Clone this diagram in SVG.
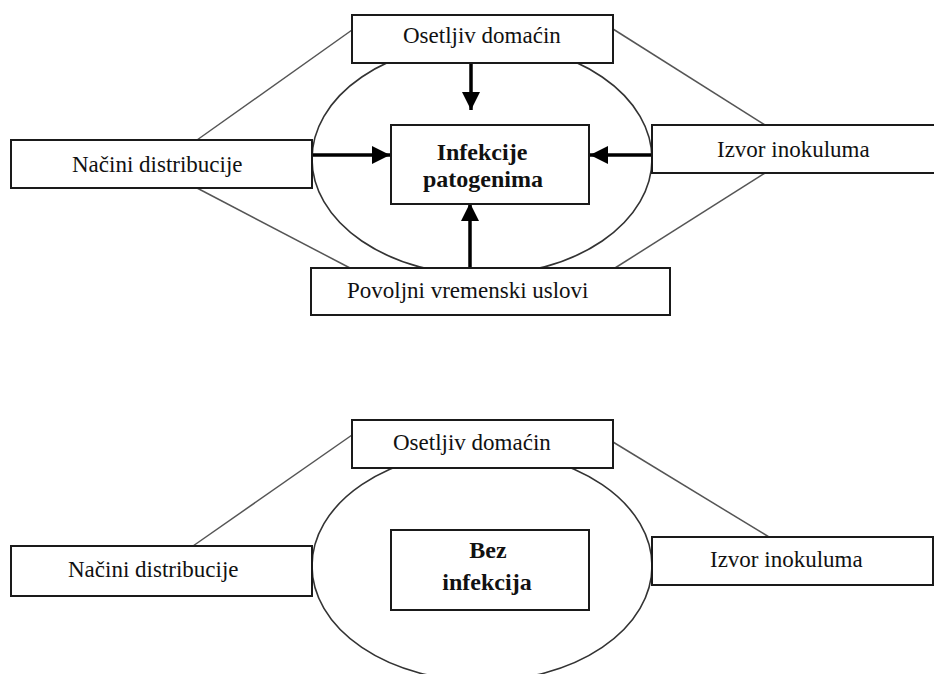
<svg xmlns="http://www.w3.org/2000/svg" width="934" height="674" viewBox="0 0 934 674">
<defs>
<style>
.box{fill:#fff;stroke:#1a1a1a;stroke-width:2}
.t{font-family:"Liberation Serif","Times New Roman",serif;font-size:23px;fill:#111}
.b{font-family:"Liberation Serif","Times New Roman","DejaVu Serif",serif;font-size:24px;font-weight:700;fill:#111;text-anchor:middle}
.ln{stroke:#555;stroke-width:1.5;fill:none}
.ell{stroke:#333;stroke-width:1.6;fill:none}
.arr{stroke:#000;stroke-width:3.5;fill:none;marker-end:url(#ah)}
</style>
<marker id="ah" viewBox="0 0 10 10" refX="10" refY="5" markerWidth="5.2" markerHeight="5.2" markerUnits="strokeWidth" orient="auto">
<path d="M0,0 L10,5 L0,10 z" fill="#000"/>
</marker>
</defs>
<rect width="934" height="674" fill="#fff"/>

<g id="connectors">
<ellipse class="ell" cx="482" cy="159" rx="170" ry="116"/>
<ellipse class="ell" cx="482" cy="566" rx="170" ry="115"/>
<line class="ln" x1="197" y1="140" x2="352" y2="30"/>
<line class="ln" x1="197" y1="188" x2="350" y2="268"/>
<line class="ln" x1="613" y1="29" x2="765" y2="125"/>
<line class="ln" x1="765" y1="173" x2="615" y2="268"/>
<line class="ln" x1="193" y1="546" x2="352" y2="435"/>
<line class="ln" x1="613" y1="442" x2="769" y2="537"/>
<line class="arr" x1="471" y1="63" x2="471" y2="110"/>
<line class="arr" x1="470" y1="268" x2="470" y2="203"/>
<line class="arr" x1="312" y1="155" x2="390" y2="155"/>
<line class="arr" x1="652" y1="155" x2="590" y2="155"/>
</g>

<g id="osetljiv-top">
<rect class="box" x="352" y="15" width="261" height="48"/>
<text class="t" x="403" y="43">Osetljiv domaćin</text>
</g>
<g id="nacini-top">
<rect class="box" x="11" y="140" width="301" height="48"/>
<text class="t" x="72" y="172">Načini distribucije</text>
</g>
<g id="infekcije">
<rect class="box" x="391" y="125" width="198" height="79"/>
<text class="b" x="482" y="160">Infekcije</text>
<text class="b" x="483" y="187">patogenima</text>
</g>
<g id="izvor-top">
<rect class="box" x="652" y="125" width="285" height="48"/>
<text class="t" x="717" y="157">Izvor inokuluma</text>
</g>
<g id="povoljni">
<rect class="box" x="311" y="268" width="359" height="47"/>
<text class="t" x="347" y="298">Povoljni vremenski uslovi</text>
</g>

<g id="osetljiv-bottom">
<rect class="box" x="352" y="420" width="261" height="48"/>
<text class="t" x="393" y="450">Osetljiv domaćin</text>
</g>
<g id="nacini-bottom">
<rect class="box" x="11" y="546" width="301" height="50"/>
<text class="t" x="68" y="577">Načini distribucije</text>
</g>
<g id="bez-infekcija">
<rect class="box" x="391" y="530" width="198" height="80"/>
<text class="b" x="488" y="558">Bez</text>
<text class="b" x="487" y="590">infekcija</text>
</g>
<g id="izvor-bottom">
<rect class="box" x="652" y="537" width="281" height="48"/>
<text class="t" x="710" y="567">Izvor inokuluma</text>
</g>
</svg>
